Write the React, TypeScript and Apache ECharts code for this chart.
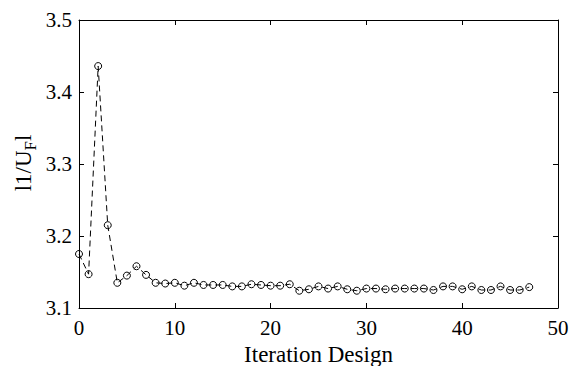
import React, { useEffect, useRef } from "react";
import * as echarts from "echarts";

const iterations = [
  0, 1, 2, 3, 4, 5, 6, 7, 8, 9, 10, 11, 12, 13, 14, 15, 16, 17, 18, 19, 20, 21, 22, 23,
  24, 25, 26, 27, 28, 29, 30, 31, 32, 33, 34, 35, 36, 37, 38, 39, 40, 41, 42, 43, 44, 45, 46, 47,
];
const values = [
  3.175, 3.147, 3.436, 3.215, 3.135, 3.145, 3.158, 3.146, 3.135, 3.134, 3.135, 3.131,
  3.135, 3.132, 3.132, 3.132, 3.130, 3.130, 3.133, 3.132, 3.131, 3.131, 3.133, 3.124,
  3.126, 3.130, 3.127, 3.130, 3.126, 3.124, 3.127, 3.127, 3.126, 3.127, 3.127, 3.127,
  3.127, 3.125, 3.130, 3.130, 3.126, 3.130, 3.125, 3.125, 3.130, 3.125, 3.125, 3.129,
];
const xTicks = [0, 10, 20, 30, 40, 50];
const yTicks = [3.1, 3.2, 3.3, 3.4, 3.5];

const FONT = "Liberation Serif";

export default function App() {
  const ref = useRef<HTMLDivElement>(null);
  useEffect(() => {
    if (!ref.current) return;
    const chart = echarts.init(ref.current, null, { renderer: "svg" });
    const axisCommon = {
      axisLine: { show: true, onZero: false, lineStyle: { color: "#000", width: 1 } },
      axisTick: { show: true, inside: true, length: 5, lineStyle: { color: "#000" } },
      splitLine: { show: false },
    };
    chart.setOption({
      animation: false,
      backgroundColor: "#fff",
      textStyle: { fontFamily: FONT, color: "#000" },
      grid: { left: 79, right: 13, top: 20, bottom: 58, outerBoundsMode: "none", containLabel: false },
      xAxis: [
        {
          type: "value",
          min: xTicks[0],
          max: xTicks[xTicks.length - 1],
          interval: 10,
          position: "bottom",
          ...axisCommon,
          axisLabel: { color: "#000", fontFamily: FONT, fontSize: 21, margin: 9 },
          name: "Iteration Design",
          nameLocation: "middle",
          nameGap: 34,
          nameTextStyle: { color: "#000", fontFamily: FONT, fontSize: 23 },
        },
        {
          type: "value",
          min: xTicks[0],
          max: xTicks[xTicks.length - 1],
          interval: 10,
          position: "top",
          ...axisCommon,
          axisLabel: { show: false },
        },
      ],
      yAxis: [
        {
          type: "value",
          min: yTicks[0],
          max: yTicks[yTicks.length - 1],
          interval: 0.1,
          position: "left",
          ...axisCommon,
          axisLabel: {
            color: "#000",
            fontFamily: FONT,
            fontSize: 21,
            margin: 7,
            formatter: (v: number) => v.toFixed(1),
          },
        },
        {
          type: "value",
          min: yTicks[0],
          max: yTicks[yTicks.length - 1],
          interval: 0.1,
          position: "right",
          ...axisCommon,
          axisLabel: { show: false },
        },
      ],
      graphic: [
        {
          type: "text",
          x: 23,
          y: 163,
          rotation: Math.PI / 2,
          style: {
            text: "{a|l1/U}{b|F}{a|l}",
            fill: "#000",
            align: "center",
            verticalAlign: "middle",
            rich: {
              a: { fontFamily: FONT, fontSize: 23, fill: "#000" },
              b: { fontFamily: FONT, fontSize: 17, fill: "#000", padding: [14, 0, 0, 0] },
            },
          },
        },
      ],
      series: [
        {
          type: "line",
          xAxisIndex: 0,
          yAxisIndex: 0,
          data: iterations.map((x, i) => [x, values[i]]),
          symbol: "circle",
          symbolSize: 7,
          showAllSymbol: true,
          lineStyle: { color: "#000", width: 1, type: [6, 4] },
          itemStyle: { color: "rgba(0,0,0,0)", borderColor: "#000", borderWidth: 1 },
        },
      ],
    });
    return () => chart.dispose();
  }, []);
  return (
    <div
      ref={ref}
      style={{ position: "fixed", left: 0, top: 0, width: 571, height: 366 }}
    />
  );
}
